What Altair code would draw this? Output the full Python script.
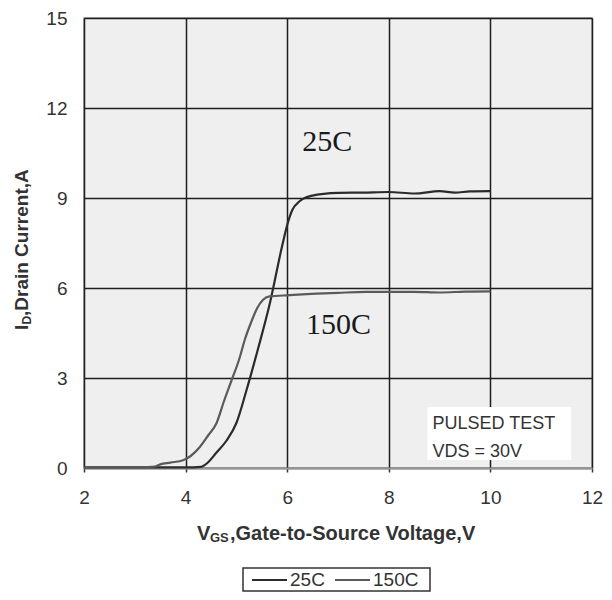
import altair as alt
import pandas as pd

# ---- data ----
vgs_25 = [2.0, 3.0, 4.0, 4.3, 4.45, 4.6, 4.8, 5.0, 5.2, 5.43, 5.66, 5.9, 6.0, 6.1, 6.25,
          6.47, 7.0, 7.5, 8.0, 8.5, 9.0, 9.3, 9.6, 10.0]
id_25 = [0.02, 0.02, 0.02, 0.04, 0.2, 0.5, 0.9, 1.5, 2.6, 4.0, 5.5, 7.4, 8.1, 8.6, 8.9,
         9.07, 9.17, 9.18, 9.2, 9.15, 9.23, 9.18, 9.22, 9.23]

vgs_150 = [2.0, 3.0, 3.4, 3.5, 3.7, 3.95, 4.1, 4.28, 4.45, 4.61, 4.75, 4.9, 5.05, 5.17,
           5.3, 5.4, 5.52, 5.65, 6.05, 6.57, 7.0, 7.55, 8.5, 9.0, 9.5, 10.0]
id_150 = [0.02, 0.02, 0.05, 0.12, 0.18, 0.26, 0.4, 0.7, 1.1, 1.5, 2.2, 2.9, 3.6, 4.3,
          4.9, 5.3, 5.6, 5.72, 5.76, 5.81, 5.84, 5.87, 5.87, 5.85, 5.88, 5.89]

series = ["25C", "150C"]
series_colors = ["#2b2b2b", "#5a5a5a"]
x_ticks = [2, 4, 6, 8, 10, 12]
y_ticks = [0, 3, 6, 9, 12, 15]

curve_labels = ["25C", "150C"]
curve_label_x = [6.79, 7.01]
curve_label_y = [10.87, 4.77]

note_lines = ["PULSED TEST", "VDS = 30V"]
note_x = [8.86, 8.86]
note_y = [1.3, 0.37]
note_box = {"x0": [8.76], "x1": [11.59], "y0": [0.27], "y1": [2.03]}

# ---- tables ----
curves = pd.concat([
    pd.DataFrame({"vgs": vgs_25, "id": id_25, "T": series[0]}),
    pd.DataFrame({"vgs": vgs_150, "id": id_150, "T": series[1]}),
])
labels_df = pd.DataFrame({"x": curve_label_x, "y": curve_label_y, "t": curve_labels})
note_df = pd.DataFrame({"x": note_x, "y": note_y, "t": note_lines})
box_df = pd.DataFrame(note_box)

FONT = "Liberation Sans"
xs = alt.Scale(domain=[2, 12], nice=False, zero=False)
ys = alt.Scale(domain=[0, 15], nice=False)

lines = alt.Chart(curves).mark_line(strokeWidth=2.2, interpolate="monotone").encode(
    x=alt.X("vgs:Q", scale=xs, axis=alt.Axis(
        values=x_ticks, title=None, grid=True, gridColor="#1e1e1e", gridWidth=1.5,
        gridOpacity=1, labelFont=FONT, labelFontSize=19, labelColor="#333",
        labelPadding=16, ticks=True, tickSize=4, tickColor="#333", tickWidth=1.5,
        domainColor="#999", domainWidth=2, labelFlush=False)),
    y=alt.Y("id:Q", scale=ys, axis=alt.Axis(
        values=y_ticks, title=None, grid=True, gridColor="#1e1e1e", gridWidth=1.5,
        gridOpacity=1, labelFont=FONT, labelFontSize=19, labelColor="#333",
        labelPadding=17, ticks=False, domain=False, labelFlush=False)),
    color=alt.Color("T:N", sort=series,
                    scale=alt.Scale(domain=series, range=series_colors),
                    legend=None),
    detail="T:N",
)

box = alt.Chart(box_df).mark_rect(color="white").encode(
    x=alt.X("x0:Q", scale=xs), x2="x1", y=alt.Y("y0:Q", scale=ys), y2="y1")

notes = alt.Chart(note_df).mark_text(align="left", baseline="alphabetic", font=FONT,
                                      fontSize=18, color="#333").encode(
    x=alt.X("x:Q", scale=xs), y=alt.Y("y:Q", scale=ys), text="t:N")

curve_text = alt.Chart(labels_df).mark_text(align="center", baseline="middle",
                                             font="Liberation Serif", fontSize=30,
                                             color="#1a1a1a").encode(
    x=alt.X("x:Q", scale=xs), y=alt.Y("y:Q", scale=ys), text="t:N")

def txt(s, x, y, size, angle=0, bold=True, baseline="alphabetic"):
    return alt.Chart(pd.DataFrame({"t": [s]})).mark_text(
        align="left", baseline=baseline, font=FONT, fontSize=size,
        fontWeight="bold" if bold else "normal", color="#333", angle=angle).encode(
        text="t:N", x=alt.value(x), y=alt.value(y))

x_title = [txt("V", 113, 522, 20), txt("GS", 126, 524, 13),
           txt(",Gate-to-Source Voltage,V", 146, 522, 20)]
y_title = [txt("I", -56, 312, 19, 270), txt("D", -53, 306.5, 12, 270),
           txt(",Drain Current,A", -56, 298, 19, 270)]

# ---- legend (drawn as marks, placed below the x title) ----
one = pd.DataFrame({"k": [0]})
legend_box = alt.Chart(one).mark_rect(fill="white", stroke="#333", strokeWidth=1.5).encode(
    x=alt.value(159), x2=alt.value(346), y=alt.value(550), y2=alt.value(573))
legend_x0 = [168, 251]
legend_layers = [legend_box]
for name, col, lx in zip(series, series_colors, legend_x0):
    legend_layers.append(alt.Chart(one).mark_rule(color=col, strokeWidth=2).encode(
        x=alt.value(lx), x2=alt.value(lx + 35), y=alt.value(562)))
    legend_layers.append(txt(name, lx + 38, 562, 19, bold=False, baseline="middle"))

chart = alt.layer(lines, box, notes, curve_text, *x_title, *y_title,
                  *legend_layers).properties(
    width=508, height=450,
    autosize=alt.AutoSizeParams(type="none"),
    padding={"left": 76, "top": 10, "right": 12, "bottom": 124},
).configure_view(fill="#efefef", stroke="#999", strokeWidth=1.5)

chart.save("out.html", embed_options={"renderer": "svg", "actions": False})
